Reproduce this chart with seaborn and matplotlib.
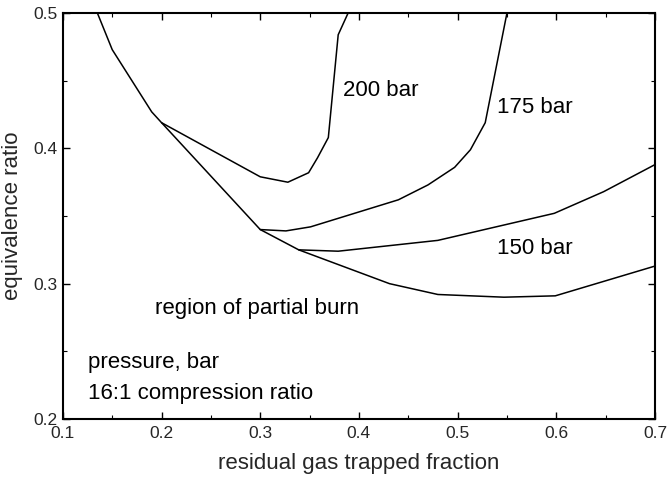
import numpy as np
import pandas as pd
import matplotlib
matplotlib.use("Agg")
import matplotlib.pyplot as plt
from matplotlib.ticker import MultipleLocator, FormatStrFormatter
import seaborn as sns

# boundary of the partial burn region (lowest curve)
edge_x = [0.135, 0.150, 0.190, 0.200, 0.300, 0.339, 0.431, 0.480, 0.547, 0.599, 0.700]
edge_y = [0.500, 0.473, 0.427, 0.419, 0.340, 0.325, 0.300, 0.292, 0.290, 0.291, 0.313]

# pressure curves
p200_x = [0.200, 0.300, 0.328, 0.349, 0.358, 0.369, 0.379, 0.389]
p200_y = [0.419, 0.379, 0.375, 0.382, 0.393, 0.408, 0.484, 0.500]

p175_x = [0.300, 0.326, 0.351, 0.440, 0.470, 0.497, 0.513, 0.528, 0.550]
p175_y = [0.340, 0.339, 0.342, 0.362, 0.373, 0.386, 0.399, 0.419, 0.500]

p150_x = [0.339, 0.379, 0.480, 0.598, 0.648, 0.700]
p150_y = [0.325, 0.324, 0.332, 0.352, 0.368, 0.388]

# text labels on the plot
labels = ["200 bar", "175 bar", "150 bar", "region of partial burn",
          "pressure, bar", "16:1 compression ratio"]
label_x = [0.384, 0.540, 0.540, 0.193, 0.125, 0.125]
label_y = [0.443, 0.430, 0.326, 0.282, 0.242, 0.219]

sns.set_style("ticks")
plt.rcParams['font.family'] = ['Liberation Sans', 'DejaVu Sans']

fig, ax = plt.subplots(figsize=(6.69, 4.86), dpi=100)
fig.subplots_adjust(left=0.094, right=0.979, bottom=0.138, top=0.973)

for xs, ys in [(edge_x, edge_y), (p200_x, p200_y), (p175_x, p175_y), (p150_x, p150_y)]:
    df = pd.DataFrame({'x': xs, 'y': ys})
    sns.lineplot(data=df, x='x', y='y', sort=False, estimator=None,
                 color='black', linewidth=1.1, ax=ax)

for txt, tx, ty in zip(labels, label_x, label_y):
    ax.text(tx, ty, txt, fontsize=16, ha='left', va='center', color='black')

ax.set_xlim(0.1, 0.7)
ax.set_ylim(0.2, 0.5)
ax.xaxis.set_major_locator(MultipleLocator(0.1))
ax.xaxis.set_minor_locator(MultipleLocator(0.05))
ax.yaxis.set_major_locator(MultipleLocator(0.1))
ax.yaxis.set_minor_locator(MultipleLocator(0.05))
ax.xaxis.set_major_formatter(FormatStrFormatter('%.1f'))
ax.yaxis.set_major_formatter(FormatStrFormatter('%.1f'))
ax.tick_params(which='both', direction='in', top=True, right=True, color='black')
ax.tick_params(which='major', length=5, width=1)
ax.tick_params(which='minor', length=3, width=0.8)
ax.tick_params(axis='x', which='major', labelsize=12.5, pad=5)
ax.tick_params(axis='y', which='major', labelsize=12.5, pad=4)

for sp in ax.spines.values():
    sp.set_visible(True)
    sp.set_linewidth(1.5)
    sp.set_color('black')

ax.set_xlabel("residual gas trapped fraction", fontsize=16, labelpad=9)
ax.set_ylabel("equivalence ratio", fontsize=16, labelpad=7)

fig.savefig("out.png", dpi=100)
